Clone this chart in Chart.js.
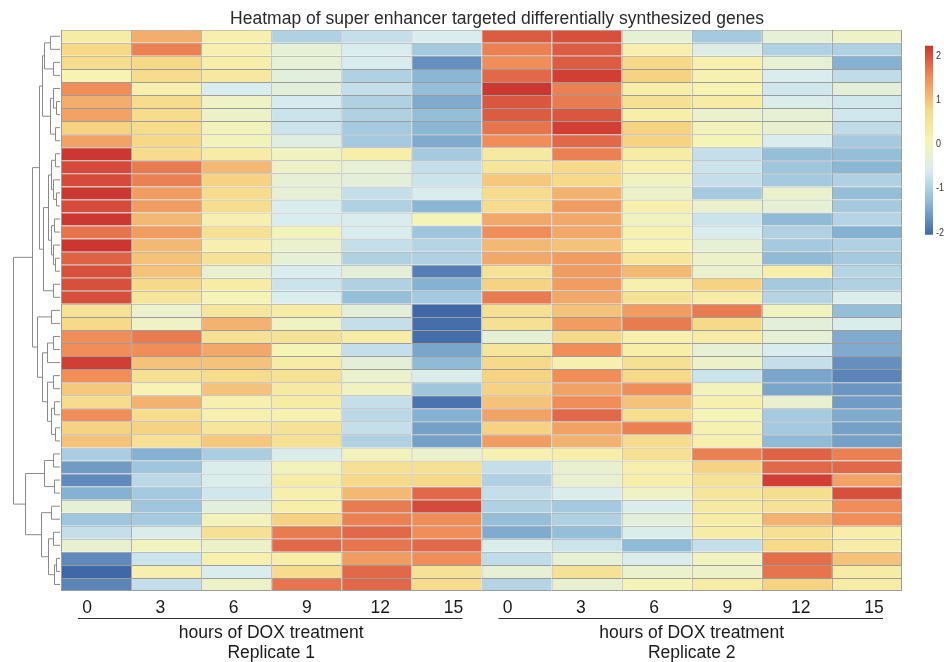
<!DOCTYPE html>
<html><head><meta charset="utf-8">
<script src="https://cdn.jsdelivr.net/npm/chart.js@4.4.1/dist/chart.umd.min.js"></script>
<style>html,body{margin:0;padding:0;background:#fff;}#wrap{width:944px;height:662px;}</style>
</head><body><div id="wrap"><canvas id="c" width="944" height="662"></canvas></div>
<script>
// ---------- data ----------
const chartTitle = 'Heatmap of super enhancer targeted differentially synthesized genes';
const timeLabels = ['0', '3', '6', '9', '12', '15'];
const replicateNames = ['Replicate 1', 'Replicate 2'];
const axisTitle = 'hours of DOX treatment';

// z-scores, one row per gene (top to bottom), columns = hours 0,3,6,9,12,15
const rep1 = [
  [0.3, 1.2, 0.2, -1.0, -0.8, -0.6],
  [0.8, 1.6, 0.2, -0.3, -0.6, -1.1],
  [0.7, 0.8, 0.25, -0.3, -0.6, -1.7],
  [0.1, 0.7, 0.4, -0.4, -1.0, -1.35],
  [1.5, 0.2, -0.6, -0.35, -0.8, -1.25],
  [1.2, 0.7, -0.1, -0.65, -1.0, -1.45],
  [1.3, 0.7, -0.15, -0.75, -1.0, -1.25],
  [0.85, 0.7, 0.0, -0.75, -1.1, -1.35],
  [1.3, 0.8, 0.0, -0.45, -1.1, -1.45],
  [2.2, 0.7, 0.3, -0.05, 0.25, -1.1],
  [2.05, 1.65, 1.1, -0.15, -0.3, -0.8],
  [2.05, 1.6, 0.85, -0.3, -0.35, -0.75],
  [2.2, 1.35, 0.7, -0.3, -0.8, -0.6],
  [2.05, 1.35, 0.65, -0.6, -1.0, -1.35],
  [2.2, 1.1, 0.2, -0.6, -0.6, 0.05],
  [1.7, 1.35, 0.6, 0.0, -0.6, -1.15],
  [2.25, 1.1, 0.2, -0.2, -0.8, -0.95],
  [1.85, 1.0, 0.55, -0.3, -1.0, -1.0],
  [2.0, 1.0, -0.25, -0.6, -0.35, -1.85],
  [2.0, 0.75, 0.3, -0.75, -1.0, -1.4],
  [2.0, 0.45, 0.05, -0.6, -1.25, -1.1],
  [0.55, -0.2, 0.45, 0.3, -0.35, -2.05],
  [0.75, -0.1, 1.15, -0.1, -0.8, -2.0],
  [1.5, 1.65, 0.6, 0.55, 0.3, -2.0],
  [1.5, 1.5, 1.25, 0.05, -0.8, -1.5],
  [2.15, 1.0, 1.0, 0.3, -0.35, -1.3],
  [1.5, 0.6, 0.7, 0.55, -0.2, -0.55],
  [0.95, 0.1, 1.0, 0.35, -0.05, -1.15],
  [0.7, 1.15, 0.2, 0.3, -0.8, -1.95],
  [1.5, 0.7, 0.2, 0.15, -0.9, -1.4],
  [0.85, 0.85, 0.45, 0.55, -0.8, -1.55],
  [1.0, 0.6, 0.95, 0.6, -1.0, -1.55],
  [-1.05, -1.4, -1.05, -0.55, 0.0, -0.2],
  [-1.6, -1.15, -0.55, 0.0, 0.6, 0.6],
  [-1.75, -0.9, -0.55, 0.3, 0.75, 0.75],
  [-1.4, -1.1, -0.7, 0.2, 1.1, 1.8],
  [-0.3, -1.15, -0.4, 0.25, 1.65, 2.05],
  [-1.15, -1.1, 0.0, 0.85, 1.6, 1.5],
  [-0.8, -0.55, 0.6, 1.65, 1.8, 1.5],
  [-0.25, -0.05, -0.15, 1.8, 1.7, 1.8],
  [-1.75, -0.75, 0.2, 0.25, 1.35, 1.5],
  [-2.05, 0.2, -0.6, 0.7, 1.8, 0.55],
  [-1.8, -0.8, -0.15, 1.7, 1.8, 0.7]
];
const rep2 = [
  [1.9, 2.0, -0.3, -1.1, -0.3, -0.1],
  [1.6, 1.9, 0.2, -0.5, -1.0, -1.0],
  [1.5, 1.9, 0.8, 0.2, -0.3, -1.4],
  [1.8, 2.15, 0.85, 0.15, -0.6, -0.85],
  [2.2, 1.6, 0.25, 0.1, -0.7, -0.35],
  [1.95, 1.65, 0.6, 0.3, -0.55, -0.7],
  [1.9, 1.95, 0.25, -0.2, -0.3, -0.7],
  [1.7, 2.15, 0.85, 0.0, -0.25, -0.85],
  [1.5, 1.8, 0.85, 0.05, -0.6, -1.1],
  [0.35, 1.6, 0.3, -0.8, -1.25, -1.25],
  [0.45, 0.75, 0.2, -0.75, -1.15, -1.35],
  [0.95, 0.75, -0.05, -0.8, -1.1, -1.0],
  [0.7, 1.15, -0.15, -1.1, -0.2, -1.25],
  [0.7, 1.35, 0.2, -0.2, -0.3, -1.1],
  [1.25, 1.25, -0.05, -0.75, -1.3, -0.95],
  [1.5, 1.25, 0.15, -0.6, -1.0, -1.4],
  [1.1, 1.0, 0.1, -0.3, -1.1, -1.0],
  [1.25, 1.35, 0.45, -0.15, -1.3, -1.1],
  [0.55, 1.35, 1.1, -0.2, 0.25, -0.95],
  [0.85, 1.35, 0.2, 0.85, -1.1, -1.0],
  [1.65, 1.25, 0.55, 0.3, -0.95, -0.55],
  [0.6, 1.0, 1.35, 1.65, -0.05, -1.25],
  [0.6, 1.35, 1.65, 0.75, -0.35, -0.55],
  [-0.3, 0.75, 0.2, 0.3, -0.3, -1.45],
  [0.45, 1.5, 0.25, -0.3, -0.6, -1.45],
  [0.75, 0.2, 0.6, -0.15, -0.8, -1.7],
  [0.85, 1.5, 0.75, -0.75, -1.5, -1.8],
  [0.85, 1.3, 1.5, 0.0, -1.5, -1.65],
  [1.0, 1.5, 1.0, 0.2, -0.25, -1.6],
  [1.3, 1.8, 0.65, 0.05, -1.1, -1.45],
  [0.85, 1.3, 1.6, 0.15, -1.1, -1.55],
  [1.35, 1.15, 0.7, 0.2, -1.3, -1.55],
  [0.15, 0.25, 0.6, 1.6, 1.85, 1.6],
  [-0.8, -0.25, 0.2, 0.85, 1.8, 1.8],
  [-1.0, -0.25, 0.25, 0.55, 2.15, 1.3],
  [-0.8, -0.55, -0.1, 0.45, 0.65, 2.0],
  [-1.0, -1.1, -0.55, 0.35, 0.55, 1.5],
  [-1.25, -1.0, -0.35, 0.3, 1.15, 1.5],
  [-1.45, -1.25, -0.55, 0.3, 0.6, 0.25],
  [-0.55, -0.75, -1.3, -0.8, 0.75, 0.3],
  [-0.85, -0.3, -0.55, -0.05, 1.75, 1.0],
  [-0.3, 0.55, -0.2, -0.15, 1.7, 0.3],
  [-0.95, -0.25, 0.05, 0.3, 0.85, 0.3]
];

// hierarchical clustering of rows: [left, right, height]; number = row, 'mK' = merge K
const dendroMerges = [
  [0, 1, 0.21], [2, 3, 0.15], ['m0', 'm1', 0.33], [5, 6, 0.08], [4, 'm3', 0.15],
  [7, 8, 0.10], ['m4', 'm5', 0.22], ['m2', 'm6', 0.38], [9, 10, 0.10], [12, 13, 0.08],
  [11, 'm9', 0.14], ['m8', 'm10', 0.20], [14, 15, 0.12], [17, 18, 0.10], [16, 'm13', 0.15],
  ['m12', 'm14', 0.20], ['m11', 'm15', 0.26], [19, 20, 0.15], ['m16', 'm17', 0.36], ['m7', 'm18', 0.44],
  [21, 22, 0.19], [23, 24, 0.15], ['m21', 25, 0.28], [26, 27, 0.15], [28, 29, 0.12],
  [30, 31, 0.10], ['m24', 'm25', 0.20], ['m23', 'm26', 0.27], ['m22', 'm27', 0.38], ['m20', 'm28', 0.50],
  ['m19', 'm29', 0.60], [32, 33, 0.15], [34, 35, 0.12], ['m31', 'm32', 0.35], [36, 37, 0.20],
  [38, 39, 0.15], [40, 41, 0.08], ['m36', 42, 0.12], ['m35', 'm37', 0.25], ['m34', 'm38', 0.40],
  ['m33', 'm39', 0.74], ['m30', 'm40', 1.0]
];

const colorbarTicks = [-2, -1, 0, 1, 2];
const colorRange = [-2.05, 2.22];
const paletteColors = ['#4068a8', '#8cb8d6', '#d8ecf0', '#f6f4b4', '#f6d886', '#f08c58', '#cc3530'];

// ---------- helpers ----------
const FONT = "'Liberation Sans', Arial, Helvetica, sans-serif";
const DENDRO_W = 47;
const CB = { offset: 23, width: 8, top: 16, height: 189 };
const nRows = rep1.length;
const rowVals = rep1.map((r, i) => r.concat(rep2[i]));
const columns = replicateNames.flatMap(r => timeLabels.map(t => r + ' ' + t + 'h'));
const nCols = columns.length;

function hexToRgb(h) { return [1, 3, 5].map(i => parseInt(h.slice(i, i + 2), 16)); }
const palRgb = paletteColors.map(hexToRgb);
function colorFor(v) {
  const [lo, hi] = colorRange;
  let t = (v - lo) / (hi - lo);
  t = Math.max(0, Math.min(1, t)) * (palRgb.length - 1);
  const i = Math.min(palRgb.length - 2, Math.floor(t));
  const f = t - i;
  const c = palRgb[i].map((a, k) => Math.round(a + (palRgb[i + 1][k] - a) * f));
  return 'rgb(' + c.join(',') + ')';
}

const datasets = rowVals.map((vals, r) => ({
  label: 'gene ' + (r + 1),
  data: vals.map(() => [r, r + 1]),
  backgroundColor: vals.map(colorFor),
  borderColor: '#9c9c9c',
  borderWidth: ctx => ({ top: 1, left: 1, right: ctx.dataIndex === nCols - 1 ? 1 : 0, bottom: r === nRows - 1 ? 1 : 0 }),
  borderSkipped: false,
  inflateAmount: 0,
  grouped: false,
  barPercentage: 1,
  categoryPercentage: 1
}));

const decor = {
  id: 'decor',
  afterLayout(chart) {
    const a = chart.chartArea;
    if (chart.titleBlock) chart.titleBlock.right = a.right + CB.offset + CB.width;
  },
  afterDraw(chart) {
    const ctx = chart.ctx, a = chart.chartArea, ys = chart.scales.y;
    // dendrogram
    const leafX = a.left - 1;
    const pos = [];
    const ref = r => typeof r === 'number' ? { x: leafX, y: ys.getPixelForValue(r + 0.5) } : pos[+r.slice(1)];
    ctx.save();
    ctx.strokeStyle = '#8a8a8a';
    ctx.lineWidth = 1;
    dendroMerges.forEach(([l, r, h], k) => {
      const p = ref(l), q = ref(r);
      const x = Math.round(leafX - h * DENDRO_W) + 0.5;
      ctx.beginPath();
      ctx.moveTo(p.x, p.y); ctx.lineTo(x, p.y); ctx.lineTo(x, q.y); ctx.lineTo(q.x, q.y);
      ctx.stroke();
      pos[k] = { x, y: (p.y + q.y) / 2 };
    });
    ctx.restore();

    // bottom annotation
    ctx.save();
    const mid = (a.left + a.right) / 2;
    [[a.left, mid], [mid, a.right]].forEach(([g0, g1], gi) => {
      const l0 = g0 + 17, l1 = g1 - 19;
      ctx.strokeStyle = '#333';
      ctx.lineWidth = 1;
      ctx.beginPath();
      ctx.moveTo(l0, Math.round(a.bottom + 27) + 0.5);
      ctx.lineTo(l1, Math.round(a.bottom + 27) + 0.5);
      ctx.stroke();
      ctx.fillStyle = '#1a1a1a';
      ctx.textAlign = 'center';
      ctx.textBaseline = 'alphabetic';
      ctx.font = '17.5px ' + FONT;
      const step = (l1 - l0 - 18) / (timeLabels.length - 1);
      timeLabels.forEach((t, k) => ctx.fillText(t, l0 + 9 + k * step, a.bottom + 21.5));
      ctx.fillText(axisTitle, (g0 + g1) / 2, a.bottom + 46.5);
      ctx.fillText(replicateNames[gi], (g0 + g1) / 2, a.bottom + 66.5);
    });
    ctx.restore();

    // colour key
    ctx.save();
    const bx = a.right + CB.offset, by0 = a.top + CB.top, by1 = by0 + CB.height;
    const g = ctx.createLinearGradient(0, by1, 0, by0);
    paletteColors.forEach((c, i) => g.addColorStop(i / (paletteColors.length - 1), c));
    ctx.fillStyle = g;
    ctx.fillRect(bx, by0, CB.width, CB.height);
    const [lo, hi] = colorRange;
    ctx.fillStyle = '#333';
    ctx.font = '11.5px ' + FONT;
    ctx.textAlign = 'left';
    ctx.textBaseline = 'middle';
    colorbarTicks.forEach(v => {
      const yy = by0 + (hi - v) / (hi - lo) * CB.height;
      ctx.save();
      ctx.translate(bx + CB.width + 3, yy);
      ctx.scale(0.78, 1);
      ctx.fillText(String(v), 0, 0);
      ctx.restore();
    });
    ctx.restore();
  }
};

new Chart(document.getElementById('c'), {
  type: 'bar',
  data: { labels: columns, datasets },
  options: {
    responsive: false,
    animation: false,
    layout: { padding: { left: 61, right: 42, top: 0, bottom: 71 } },
    scales: {
      x: { type: 'category', display: false, offset: true },
      y: { type: 'linear', display: false, min: 0, max: nRows, reverse: true }
    },
    plugins: {
      legend: { display: false },
      tooltip: { enabled: false },
      title: {
        display: true, text: chartTitle, color: '#2a2a2a',
        font: { family: FONT, size: 17.5, weight: 'normal', lineHeight: 1.1 },
        padding: { top: 9.5, bottom: 1 }
      }
    }
  },
  plugins: [decor]
});
</script></body></html>
